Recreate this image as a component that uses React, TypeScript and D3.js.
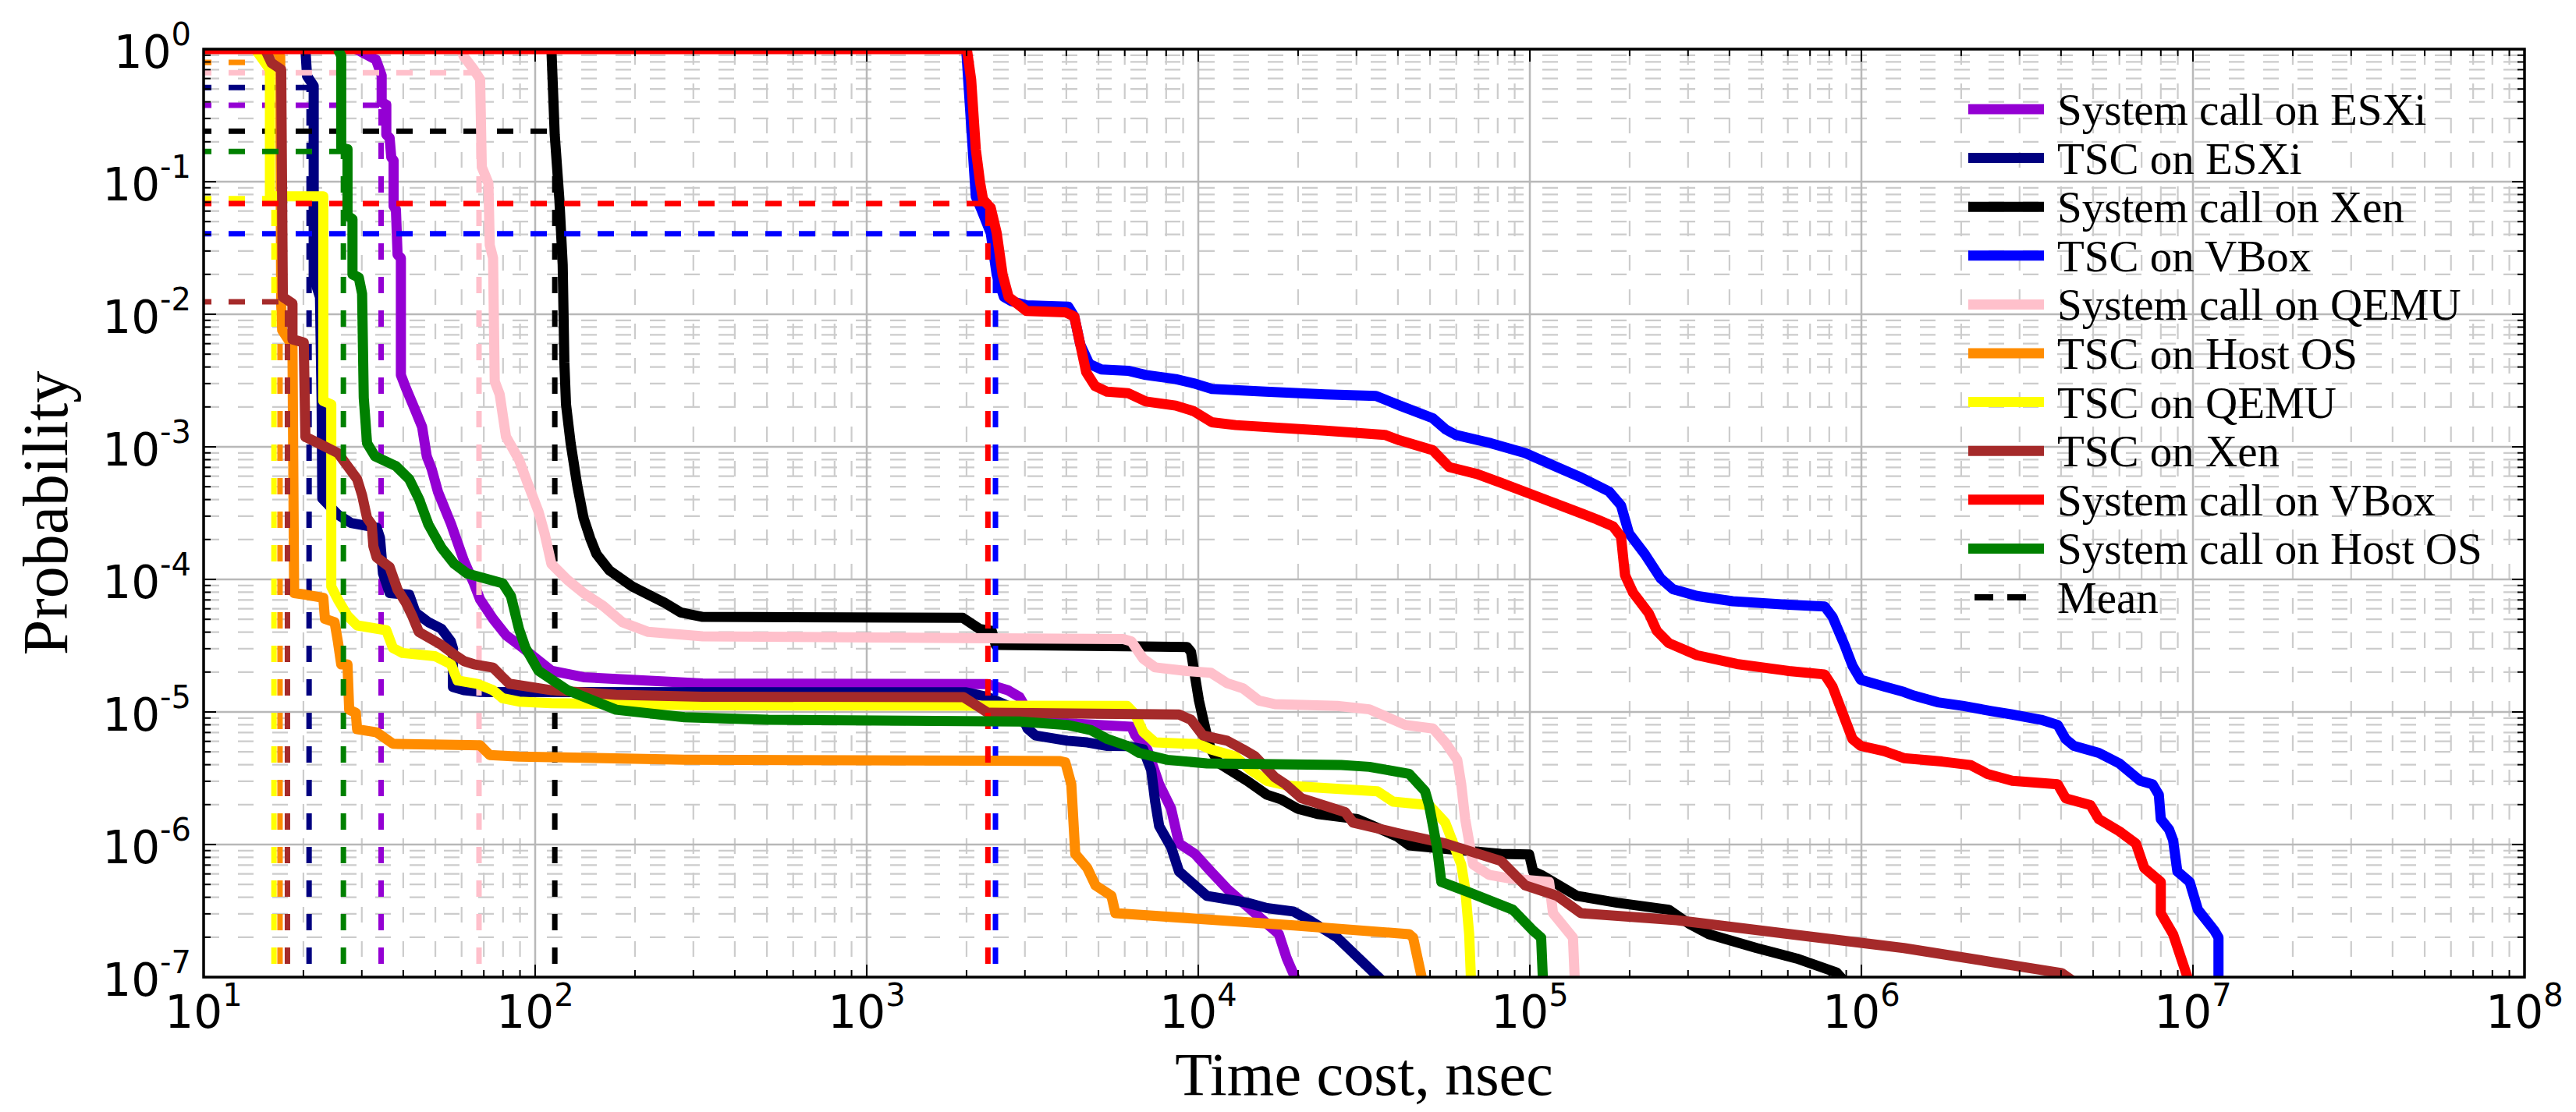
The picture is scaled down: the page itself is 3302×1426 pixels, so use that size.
import * as d3 from "d3";

const W = 3302;
const H = 1426;
const plot = { left: 261, right: 3236, top: 63, bottom: 1253 };

const seriesNames = [
  "System call on ESXi",
  "TSC on ESXi",
  "System call on Xen",
  "TSC on VBox",
  "System call on QEMU",
  "TSC on Host OS",
  "TSC on QEMU",
  "TSC on Xen",
  "System call on VBox",
  "System call on Host OS",
];
const seriesColors = [
  "#9400D3", "#000080", "#000000", "#0000FF", "#FFC0CB",
  "#FF8C00", "#FFFF00", "#A52A2A", "#FF0000", "#008000",
];

// CCDF points, as [log10(ns), log10(probability)]
const syscallEsxi = [
  [1.46, 0], [1.52, -0.08], [1.53, -0.15], [1.537, -0.2], [1.537, -0.4], [1.551, -0.42],
  [1.551, -0.645], [1.561, -0.67], [1.566, -0.816], [1.573, -0.84], [1.573, -1.184],
  [1.58, -1.21], [1.585, -1.551], [1.595, -1.576], [1.595, -2.458], [1.61, -2.556],
  [1.639, -2.728], [1.659, -2.85], [1.673, -3.071], [1.688, -3.169], [1.707, -3.341],
  [1.746, -3.58], [1.785, -3.858], [1.815, -4.029], [1.834, -4.152], [1.873, -4.298],
  [1.912, -4.421], [1.951, -4.494], [2.0, -4.592], [2.049, -4.689], [2.146, -4.738],
  [2.505, -4.785], [3.365, -4.79], [3.425, -4.835], [3.461, -4.888], [3.485, -4.993],
  [3.605, -5.085], [3.798, -5.111], [3.81, -5.177], [3.846, -5.282], [3.882, -5.545],
  [3.918, -5.729], [3.942, -5.992], [3.99, -6.071], [4.038, -6.203], [4.087, -6.334],
  [4.147, -6.466], [4.207, -6.597], [4.243, -6.676], [4.267, -6.86], [4.3, -7.05],
];
const tscEsxi = [
  [1.307, 0], [1.312, -0.203], [1.332, -0.277], [1.332, -1.723], [1.351, -1.87],
  [1.356, -2.679], [1.358, -3.39], [1.405, -3.512], [1.444, -3.574], [1.522, -3.61],
  [1.532, -3.687], [1.541, -3.956], [1.561, -4.103], [1.62, -4.115], [1.639, -4.249],
  [1.678, -4.323], [1.717, -4.372], [1.746, -4.469], [1.752, -4.52], [1.752, -4.812],
  [1.785, -4.836], [1.834, -4.848], [1.863, -4.85], [3.3, -4.852], [3.365, -4.888],
  [3.461, -4.993], [3.485, -5.125], [3.509, -5.177], [3.605, -5.217], [3.665, -5.23],
  [3.726, -5.256], [3.786, -5.258], [3.834, -5.282], [3.858, -5.44], [3.87, -5.677],
  [3.882, -5.861], [3.918, -6.019], [3.942, -6.203], [4.026, -6.387], [4.087, -6.413],
  [4.147, -6.439], [4.207, -6.479], [4.287, -6.505], [4.335, -6.571], [4.419, -6.702],
  [4.564, -7.05],
];
const syscallXen = [
  [2.049, 0], [2.059, -0.645], [2.073, -1.135], [2.083, -1.625], [2.088, -2.36],
  [2.093, -2.679], [2.107, -2.973], [2.127, -3.292], [2.146, -3.537], [2.166, -3.69],
  [2.185, -3.809], [2.224, -3.932], [2.293, -4.054], [2.39, -4.176], [2.439, -4.249],
  [2.505, -4.283], [3.29, -4.29], [3.341, -4.375], [3.377, -4.388], [3.389, -4.494],
  [3.786, -4.505], [3.966, -4.51], [3.978, -4.546], [4.002, -4.914], [4.026, -5.177],
  [4.038, -5.282], [4.063, -5.388], [4.147, -5.519], [4.207, -5.624], [4.25, -5.66],
  [4.299, -5.729], [4.359, -5.769], [4.48, -5.808], [4.6, -5.94], [4.636, -6.006],
  [4.745, -6.032], [4.913, -6.071], [4.998, -6.075], [5.01, -6.203], [5.034, -6.229],
  [5.142, -6.387], [5.263, -6.439], [5.419, -6.492], [5.48, -6.597], [5.54, -6.676],
  [5.684, -6.781], [5.805, -6.86], [5.925, -6.965], [5.955, -7.05],
];
const tscVbox = [
  [3.3, 0], [3.306, -0.231], [3.329, -1.113], [3.347, -1.218], [3.374, -1.387],
  [3.392, -1.702], [3.414, -1.87], [3.437, -1.901], [3.482, -1.933], [3.608, -1.943],
  [3.626, -2.017], [3.644, -2.227], [3.671, -2.374], [3.707, -2.416], [3.788, -2.426],
  [3.842, -2.458], [3.932, -2.489], [3.986, -2.521], [4.041, -2.563], [4.203, -2.584],
  [4.383, -2.605], [4.536, -2.616], [4.608, -2.689], [4.707, -2.784], [4.746, -2.868],
  [4.776, -2.91], [4.883, -2.973], [4.986, -3.047], [5.082, -3.153], [5.154, -3.231],
  [5.239, -3.337], [5.275, -3.442], [5.299, -3.652], [5.347, -3.81], [5.395, -3.994],
  [5.431, -4.073], [5.504, -4.125], [5.612, -4.165], [5.781, -4.191], [5.889, -4.204],
  [5.913, -4.283], [5.949, -4.494], [5.973, -4.651], [5.998, -4.757], [6.07, -4.809],
  [6.128, -4.849], [6.156, -4.875], [6.23, -4.927], [6.305, -4.954], [6.392, -4.993],
  [6.455, -5.019], [6.542, -5.059], [6.592, -5.098], [6.616, -5.204], [6.641, -5.256],
  [6.716, -5.309], [6.778, -5.388], [6.841, -5.519], [6.878, -5.545], [6.897, -5.624],
  [6.903, -5.808], [6.928, -5.887], [6.94, -5.966], [6.953, -6.203], [6.99, -6.282],
  [7.015, -6.492], [7.065, -6.65], [7.077, -6.702], [7.077, -7.05],
];
const syscallQemu = [
  [1.776, 0], [1.785, -0.056], [1.815, -0.154], [1.834, -0.228], [1.839, -0.89],
  [1.859, -1.012], [1.863, -1.478], [1.873, -1.576], [1.878, -2.507], [1.893, -2.605],
  [1.912, -2.924], [1.951, -3.096], [1.98, -3.292], [2.01, -3.488], [2.029, -3.659],
  [2.049, -3.883], [2.098, -4.005], [2.146, -4.103], [2.205, -4.2], [2.263, -4.323],
  [2.341, -4.396], [2.505, -4.43], [3.774, -4.45], [3.798, -4.467], [3.834, -4.599],
  [3.87, -4.664], [3.966, -4.691], [4.038, -4.704], [4.087, -4.783], [4.135, -4.822],
  [4.183, -4.914], [4.231, -4.941], [4.419, -4.954], [4.516, -4.98], [4.624, -5.098],
  [4.708, -5.125], [4.745, -5.23], [4.781, -5.361], [4.793, -5.545], [4.805, -5.808],
  [4.829, -6.15], [4.877, -6.229], [4.937, -6.255], [5.058, -6.282], [5.07, -6.518],
  [5.13, -6.702], [5.136, -7.05],
];
const tscHost = [
  [1.215, 0], [1.231, -0.056], [1.234, -1.92], [1.237, -2.12], [1.268, -2.24],
  [1.273, -4.103], [1.307, -4.115], [1.361, -4.139], [1.366, -4.298], [1.395, -4.323],
  [1.405, -4.469], [1.415, -4.641], [1.434, -4.641], [1.439, -4.983], [1.459, -5.007],
  [1.463, -5.13], [1.522, -5.154], [1.571, -5.24], [1.834, -5.252], [1.863, -5.325],
  [1.951, -5.337], [2.45, -5.36], [3.581, -5.37], [3.599, -5.38], [3.617, -5.545],
  [3.629, -6.071], [3.665, -6.176], [3.69, -6.308], [3.738, -6.387], [3.75, -6.518],
  [4.289, -6.61], [4.636, -6.676], [4.648, -6.702], [4.678, -7.05],
];
const tscQemu = [
  [1.156, 0], [1.2, -0.154], [1.2, -1.11], [1.361, -1.11], [1.361, -2.654],
  [1.385, -2.68], [1.385, -4.054], [1.405, -4.152], [1.434, -4.274], [1.463, -4.347],
  [1.551, -4.384], [1.571, -4.518], [1.6, -4.555], [1.698, -4.579], [1.746, -4.64],
  [1.766, -4.763], [1.824, -4.787], [1.873, -4.836], [1.902, -4.897], [1.951, -4.922],
  [2.049, -4.934], [2.505, -4.95], [3.786, -4.955], [3.81, -5.019], [3.834, -5.151],
  [3.87, -5.23], [4.002, -5.243], [4.038, -5.282], [4.111, -5.335], [4.159, -5.44],
  [4.207, -5.52], [4.275, -5.558], [4.54, -5.598], [4.588, -5.677], [4.696, -5.703],
  [4.745, -5.835], [4.769, -5.992], [4.793, -6.15], [4.805, -6.334], [4.817, -6.676],
  [4.823, -7.05],
];
const tscXen = [
  [1.185, 0], [1.205, -0.105], [1.234, -0.154], [1.239, -1.87], [1.268, -1.919],
  [1.268, -2.189], [1.302, -2.213], [1.307, -2.924], [1.366, -2.998], [1.405, -3.047],
  [1.434, -3.145], [1.463, -3.243], [1.478, -3.365], [1.493, -3.537], [1.507, -3.586],
  [1.512, -3.75], [1.522, -3.834], [1.561, -3.907], [1.585, -4.078], [1.61, -4.176],
  [1.629, -4.274], [1.649, -4.396], [1.717, -4.494], [1.756, -4.567], [1.785, -4.616],
  [1.815, -4.64], [1.873, -4.665], [1.902, -4.738], [1.922, -4.787], [2.049, -4.836],
  [2.244, -4.87], [2.505, -4.885], [3.292, -4.888], [3.341, -4.967], [3.365, -5.006],
  [3.942, -5.019], [3.978, -5.059], [4.014, -5.177], [4.087, -5.217], [4.135, -5.282],
  [4.171, -5.335], [4.231, -5.493], [4.263, -5.545], [4.311, -5.651], [4.443, -5.756],
  [4.467, -5.835], [4.6, -5.913], [4.745, -5.992], [4.913, -6.124], [4.986, -6.308],
  [5.082, -6.387], [5.154, -6.518], [5.443, -6.571], [6.128, -6.781], [6.604, -6.97],
  [6.65, -7.05],
];
const syscallVbox = [
  [1.0, 0], [3.302, 0], [3.315, -0.231], [3.329, -0.756], [3.342, -1.008], [3.351, -1.134],
  [3.374, -1.197], [3.392, -1.387], [3.41, -1.702], [3.428, -1.87], [3.482, -1.975],
  [3.599, -1.985], [3.626, -2.017], [3.644, -2.227], [3.662, -2.437], [3.689, -2.542],
  [3.725, -2.584], [3.788, -2.595], [3.842, -2.658], [3.932, -2.689], [3.986, -2.731],
  [4.041, -2.815], [4.113, -2.836], [4.248, -2.857], [4.383, -2.878], [4.563, -2.91],
  [4.608, -2.952], [4.707, -3.025], [4.757, -3.153], [4.841, -3.205], [4.913, -3.271],
  [5.01, -3.363], [5.106, -3.455], [5.202, -3.547], [5.251, -3.6], [5.275, -3.678],
  [5.287, -3.968], [5.311, -4.099], [5.359, -4.257], [5.383, -4.388], [5.419, -4.48],
  [5.504, -4.572], [5.624, -4.638], [5.781, -4.691], [5.889, -4.717], [5.913, -4.809],
  [5.949, -5.046], [5.973, -5.204], [5.998, -5.256], [6.07, -5.296], [6.128, -5.348],
  [6.243, -5.374], [6.33, -5.401], [6.38, -5.467], [6.455, -5.519], [6.592, -5.545],
  [6.616, -5.651], [6.691, -5.703], [6.716, -5.808], [6.778, -5.9], [6.828, -5.992],
  [6.853, -6.176], [6.903, -6.282], [6.903, -6.518], [6.94, -6.676], [6.99, -7.05],
];
const syscallHost = [
  [1.405, 0], [1.415, -0.05], [1.415, -0.743], [1.434, -0.755], [1.434, -1.257],
  [1.449, -1.282], [1.449, -1.699], [1.468, -1.723], [1.478, -1.846], [1.483, -2.63],
  [1.493, -2.973], [1.517, -3.071], [1.58, -3.145], [1.62, -3.243], [1.649, -3.39],
  [1.678, -3.586], [1.717, -3.76], [1.756, -3.883], [1.795, -3.956], [1.902, -4.029],
  [1.927, -4.127], [1.951, -4.372], [1.971, -4.518], [2.01, -4.689], [2.098, -4.836],
  [2.244, -4.983], [2.45, -5.04], [2.703, -5.059], [3.461, -5.072], [3.605, -5.098],
  [3.677, -5.138], [3.726, -5.204], [3.786, -5.256], [3.822, -5.309], [3.906, -5.361],
  [4.026, -5.388], [4.431, -5.4], [4.516, -5.414], [4.636, -5.467], [4.684, -5.598],
  [4.696, -5.703], [4.72, -6.019], [4.733, -6.282], [4.817, -6.361], [4.949, -6.492],
  [5.01, -6.65], [5.034, -6.702], [5.04, -7.05],
];

const seriesData = [
  syscallEsxi, tscEsxi, syscallXen, tscVbox, syscallQemu,
  tscHost, tscQemu, tscXen, syscallVbox, syscallHost,
];

// mean time (ns) and the CCDF value at the mean, per series
const meanTimes = [34.3, 20.8, 114.6, 2445, 67.7, 17.0, 16.3, 17.9, 2320, 26.4];
const meanProbs = [0.377, 0.514, 0.24, 0.0405, 0.663, 0.793, 0.0746, 0.0124, 0.0685, 0.169];

const xTickExps = [1, 2, 3, 4, 5, 6, 7, 8];
const yTickExps = [0, -1, -2, -3, -4, -5, -6, -7];

const isDecade = (v) => Math.abs(Math.log10(v) - Math.round(Math.log10(v))) < 1e-9;

export default function App() {
  const x = d3.scaleLog().domain([1e1, 1e8]).range([plot.left, plot.right]);
  const y = d3.scaleLog().domain([1e-7, 1]).range([plot.bottom, plot.top]);
  const line = d3
    .line()
    .x((d) => x(Math.pow(10, d[0])))
    .y((d) => y(Math.pow(10, d[1])));

  const xTicks = x.ticks();
  const yTicks = y.ticks();
  const xMinor = xTicks.filter((v) => !isDecade(v));
  const yMinor = yTicks.filter((v) => !isDecade(v));
  const xMajor = xTicks.filter((v) => isDecade(v));
  const yMajor = yTicks.filter((v) => isDecade(v));

  const legendX1 = 2523;
  const legendX2 = 2620;
  const legendTop = 140;
  const legendStep = 62.6;

  return (
    <svg
      width={W}
      height={H}
      style={{ position: "absolute", left: 0, top: 0, background: "#fff" }}
    >
      <defs>
        <clipPath id="plotClip">
          <rect x={plot.left} y={plot.top} width={plot.right - plot.left} height={plot.bottom - plot.top} />
        </clipPath>
      </defs>
      <rect x={0} y={0} width={W} height={H} fill="#fff" />

      {/* grid */}
      <g stroke="#cccccc" strokeWidth={2.2} strokeDasharray="20 24" fill="none">
        {xMinor.map((v) => (
          <line key={"xm" + v} x1={x(v)} x2={x(v)} y1={plot.top} y2={plot.bottom} />
        ))}
        {yMinor.map((v) => (
          <line key={"ym" + v} x1={plot.left} x2={plot.right} y1={y(v)} y2={y(v)} />
        ))}
      </g>
      <g stroke="#b8b8b8" strokeWidth={2.5} fill="none">
        {xMajor.map((v) => (
          <line key={"xM" + v} x1={x(v)} x2={x(v)} y1={plot.top} y2={plot.bottom} />
        ))}
        {yMajor.map((v) => (
          <line key={"yM" + v} x1={plot.left} x2={plot.right} y1={y(v)} y2={y(v)} />
        ))}
      </g>

      {/* curves, each followed by its mean markers */}
      <g clipPath="url(#plotClip)" fill="none">
        {seriesData.map((pts, i) => (
          <g key={seriesNames[i]}>
            <path
              d={line(pts)}
              stroke={seriesColors[i]}
              strokeWidth={13}
              strokeLinejoin="round"
              strokeLinecap="butt"
            />
            <line
              x1={x(10)}
              x2={x(meanTimes[i])}
              y1={y(meanProbs[i])}
              y2={y(meanProbs[i])}
              stroke={seriesColors[i]}
              strokeWidth={7}
              strokeDasharray="21 22"
              strokeDashoffset={11}
            />
            <line
              x1={x(meanTimes[i])}
              x2={x(meanTimes[i])}
              y1={y(1e-7)}
              y2={y(meanProbs[i])}
              stroke={seriesColors[i]}
              strokeWidth={7}
              strokeDasharray="21 22"
              strokeDashoffset={26}
            />
          </g>
        ))}
      </g>

      {/* ticks */}
      <g stroke="#000" strokeWidth={2}>
        {xTicks.map((v) => {
          const len = isDecade(v) ? 16 : 9;
          return (
            <g key={"xt" + v}>
              <line x1={x(v)} x2={x(v)} y1={plot.bottom} y2={plot.bottom - len} />
              <line x1={x(v)} x2={x(v)} y1={plot.top} y2={plot.top + len} />
            </g>
          );
        })}
        {yTicks.map((v) => {
          const len = isDecade(v) ? 16 : 9;
          return (
            <g key={"yt" + v}>
              <line x1={plot.left} x2={plot.left + len} y1={y(v)} y2={y(v)} />
              <line x1={plot.right} x2={plot.right - len} y1={y(v)} y2={y(v)} />
            </g>
          );
        })}
      </g>
      <rect
        x={plot.left}
        y={plot.top}
        width={plot.right - plot.left}
        height={plot.bottom - plot.top}
        fill="none"
        stroke="#000"
        strokeWidth={3.5}
      />

      {/* tick labels */}
      <g fontFamily="DejaVu Sans" fill="#000">
        {yTickExps.map((e) => (
          <text key={"yl" + e} x={plot.left - 16} y={y(Math.pow(10, e)) + 24} fontSize={58} textAnchor="end">
            10
            <tspan dy={-29} fontSize={40}>{e}</tspan>
          </text>
        ))}
        {xTickExps.map((e) => (
          <text key={"xl" + e} x={x(Math.pow(10, e))} y={1318} fontSize={58} textAnchor="middle">
            10
            <tspan dy={-28} fontSize={40}>{e}</tspan>
          </text>
        ))}
      </g>

      {/* axis titles */}
      <g fontFamily="Liberation Serif" fill="#000">
        <text x={(plot.left + plot.right) / 2} y={1404} fontSize={78} textAnchor="middle">
          Time cost, nsec
        </text>
        <text transform="translate(86,658) rotate(-90)" fontSize={82} textAnchor="middle">
          Probability
        </text>
      </g>

      {/* legend */}
      <g fontFamily="Liberation Serif" fontSize={57}>
        {seriesNames.map((name, i) => {
          const ly = legendTop + legendStep * i;
          return (
            <g key={"lg" + name}>
              <line x1={legendX1} x2={legendX2} y1={ly} y2={ly} stroke={seriesColors[i]} strokeWidth={13} />
              <text x={legendX2 + 17} y={ly + 20}>{name}</text>
            </g>
          );
        })}
        <line
          x1={legendX1 + 8}
          x2={legendX1 + 74}
          y1={legendTop + legendStep * 10}
          y2={legendTop + legendStep * 10}
          stroke="#000"
          strokeWidth={8}
          strokeDasharray="24 18"
        />
        <text x={legendX2 + 17} y={legendTop + legendStep * 10 + 20}>Mean</text>
      </g>
    </svg>
  );
}
